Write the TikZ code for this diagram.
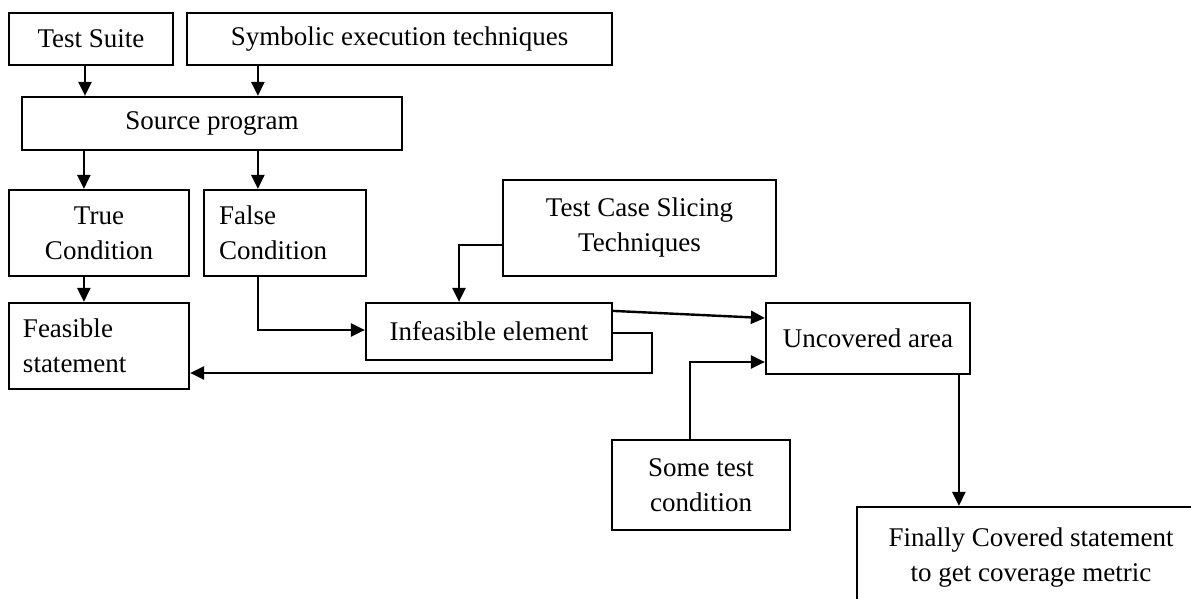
\documentclass[tikz,border=0pt]{standalone}
\usepackage{fontspec}
\setmainfont{Liberation Serif}
\usetikzlibrary{arrows.meta,calc}
\tikzset{
  box/.style={draw, line width=2.2pt, rectangle, inner sep=0pt, align=center,
    font=\fontsize{27}{35}\selectfont},
  lbox/.style={box, align=left},
  conn/.style={line width=2.4pt, -{Triangle[length=14pt,width=13pt]}},
}
\begin{document}
\begin{tikzpicture}[x=1pt,y=-1pt]
\useasboundingbox (0,0) rectangle (1191,599);
\clip (0,0) rectangle (1191,599);
\fill[white] (0,0) rectangle (1191,599);
\node[box, minimum width=164pt, minimum height=52pt] (ts) at (91,39) {Test Suite};
\node[box, minimum width=425pt, minimum height=52pt] (sym) at (399.5,39) {Symbolic execution techniques};
\node[box, minimum width=380pt, minimum height=53pt] (src) at (212,123.5) {Source program};
\node[box, minimum width=180pt, minimum height=86pt] (tru) at (99,233) {True\\Condition};
\node[lbox, minimum width=162pt, minimum height=86pt, text width=132pt, inner xsep=15pt] (fal) at (285,233) {False\\Condition};
\node[box, minimum width=273pt, minimum height=96pt] (tcs) at (639.5,228) {Test Case Slicing\\Techniques};
\node[lbox, minimum width=180pt, minimum height=86pt, text width=152pt, inner xsep=14pt] (fea) at (99,346) {Feasible\\statement};
\node[box, minimum width=246pt, minimum height=57pt] (inf) at (489,331.5) {Infeasible element};
\node[box, minimum width=204pt, minimum height=71pt] (unc) at (868,338.5) {Uncovered area};
\node[box, minimum width=178pt, minimum height=90pt] (stc) at (701,485) {Some test\\condition};
\node[box, minimum width=348pt, minimum height=102pt] (fin) at (1031,558) {Finally Covered statement\\to get coverage metric};

\coordinate (a1) at ([xshift=-6pt]ts.south);
\draw[conn] (a1) -- (a1 |- src.north);
\coordinate (a2) at ([xshift=72pt]sym.south west);
\draw[conn] (a2) -- (a2 |- src.north);
\coordinate (a3) at ([xshift=63pt]src.south west);
\draw[conn] (a3) -- (a3 |- tru.north);
\coordinate (a4) at ([xshift=237pt]src.south west);
\draw[conn] (a4) -- (a4 |- fal.north);
\coordinate (a5) at ([xshift=76pt]tru.south west);
\draw[conn] (a5) -- (a5 |- fea.north);
\coordinate (a6) at ([xshift=55pt]fal.south west);
\coordinate (a6e) at ([yshift=1.5pt]inf.west);
\draw[conn] (a6) |- (a6e);
\coordinate (a7) at ([yshift=-17pt]tcs.west);
\coordinate (a7e) at ([xshift=-30pt]inf.north);
\draw[conn] (a7) -| (a7e);
\coordinate (a8) at ([yshift=-9pt]inf.north east);
\coordinate (a8e) at ([yshift=20.5pt]unc.west);
\draw[conn] (a8) -- (a8e);
\coordinate (a9) at ([yshift=-1.5pt]inf.east);
\coordinate (a9e) at ([yshift=-27pt]fea.east);
\draw[conn] (a9) -- ++(39pt,0pt) |- (a9e);
\coordinate (a10) at ([xshift=-11pt]stc.north);
\coordinate (a10e) at ([yshift=-23.5pt]unc.west);
\draw[conn] (a10) |- (a10e);
\coordinate (a11) at ([xshift=194pt]unc.south west);
\draw[conn] (a11) -- (a11 |- fin.north);
\end{tikzpicture}
\end{document}
